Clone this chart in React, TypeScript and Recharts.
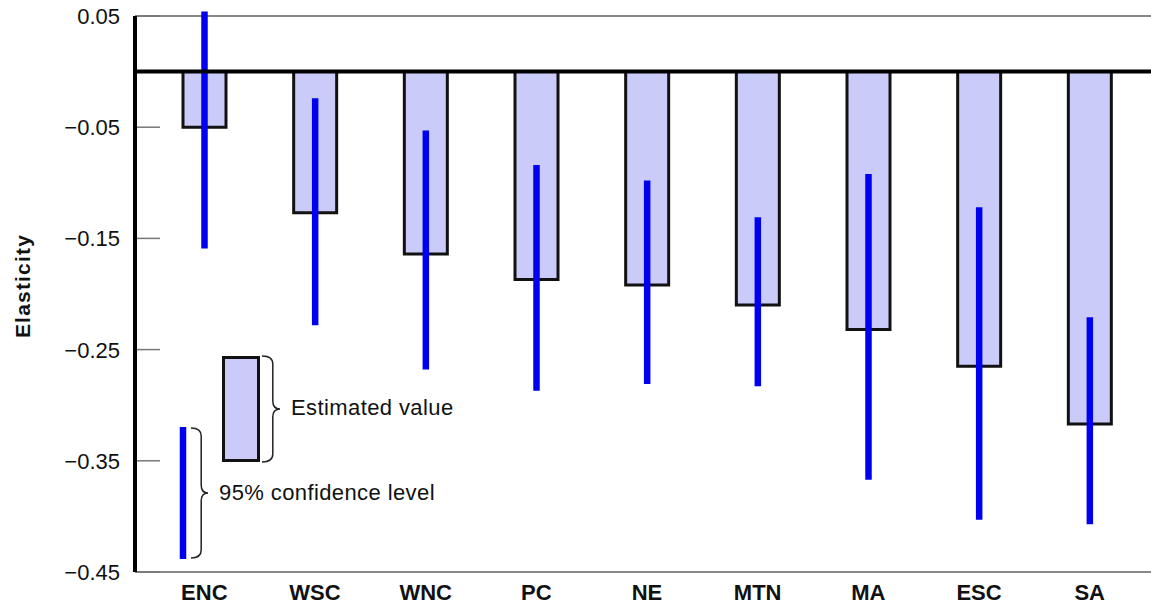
import React from 'react'

//* Recharts
import { BarChart, Bar, ErrorBar, XAxis, YAxis, ReferenceLine } from 'recharts'

const regions = ['ENC', 'WSC', 'WNC', 'PC', 'NE', 'MTN', 'MA', 'ESC', 'SA']
const estimates = [-0.05, -0.127, -0.164, -0.187, -0.192, -0.21, -0.232, -0.265, -0.317]
const ciLower = [-0.159, -0.228, -0.268, -0.287, -0.281, -0.283, -0.367, -0.403, -0.407]
const ciUpper = [0.054, -0.024, -0.053, -0.084, -0.098, -0.131, -0.092, -0.122, -0.221]
const yTicks = [0.05, -0.05, -0.15, -0.25, -0.35, -0.45]

const FONT = '"Liberation Sans", Arial, Helvetica, sans-serif'
const BAR_FILL = '#cbcbfa'
const BLUE = '#0000f0'

const data = regions.map((r, i) => ({
    region: r,
    est: estimates[i],
    err: [estimates[i] - ciLower[i], ciUpper[i] - estimates[i]]
}))

const fmt = (v: number) => (v < 0 ? '\u2212' : '') + Math.abs(v).toFixed(2)

const YTick = (props: any) => {
    const { x, y, payload } = props
    return (
        <g>
            <text x={x} y={y} dy="0.36em" textAnchor="end" fontSize={22} fontFamily={FONT} fill="#111">
                {fmt(payload.value)}
            </text>
            <line x1={x + 17} x2={x + 40} y1={y} y2={y} stroke="#777" strokeWidth={1.5} />
        </g>
    )
}

const XTick = (props: any) => {
    const { x, y, payload } = props
    return (
        <text x={x} y={y} dy="0.71em" textAnchor="middle" fontSize={22} fontWeight="bold" fontFamily={FONT} fill="#111">
            {payload.value}
        </text>
    )
}

const YLabel = (props: any) => {
    const { viewBox } = props
    const cx = viewBox.x + 22
    const cy = 286
    return (
        <text x={cx} y={cy} transform={`rotate(-90, ${cx}, ${cy})`} textAnchor="middle" dy="0.36em"
            fontSize={21} fontWeight="bold" letterSpacing={1.2} fontFamily={FONT} fill="#111">
            Elasticity
        </text>
    )
}

// curly brace pointing right
const brace = (x0: number, y0: number, y1: number, w: number) => {
    const x1 = x0 + w * 0.6
    const x2 = x0 + w
    const ym = (y0 + y1) / 2
    const r = 8
    return `M ${x0} ${y0} Q ${x1} ${y0} ${x1} ${y0 + r} L ${x1} ${ym - r} Q ${x1} ${ym} ${x2} ${ym} ` +
        `Q ${x1} ${ym} ${x1} ${ym + r} L ${x1} ${y1 - r} Q ${x1} ${y1} ${x0} ${y1}`
}

function Legend() {
    return (
        <svg width={1151} height={607} style={{ position: 'absolute', left: 0, top: 0, pointerEvents: 'none' }}>
            <rect x={223.5} y={357.5} width={35} height={103} fill={BAR_FILL} stroke="#111" strokeWidth={3} />
            <path d={brace(262, 356, 462, 18)} fill="none" stroke="#222" strokeWidth={1.5} />
            <text x={291} y={415} fontSize={22} letterSpacing={0.4} fontFamily={FONT} fill="#111">Estimated value</text>
            <line x1={183} x2={183} y1={427} y2={559} stroke={BLUE} strokeWidth={6.5} />
            <path d={brace(191, 428, 558, 17)} fill="none" stroke="#222" strokeWidth={1.5} />
            <text x={219} y={500} fontSize={22} letterSpacing={0.4} fontFamily={FONT} fill="#111">95% confidence level</text>
        </svg>
    )
}

function App() {
    return (
        <div style={{ position: 'absolute', left: 0, top: 0, width: 1151, height: 607, background: '#fff' }}>
            <BarChart width={1151} height={607} data={data} margin={{ top: 16, right: 0, bottom: 0, left: 0 }}>
                <XAxis dataKey="region" height={35} tickLine={false} tickSize={0} tickMargin={12}
                    axisLine={{ stroke: '#888', strokeWidth: 2 }} tick={<XTick />} padding={{ left: 14, right: 6 }} />
                <YAxis width={135} domain={[-0.45, 0.05]} ticks={yTicks} allowDataOverflow tickLine={false}
                    tickSize={0} tickMargin={15} axisLine={{ stroke: '#000', strokeWidth: 4 }} tick={<YTick />}
                    label={<YLabel />} />
                <ReferenceLine y={0.05} stroke="#888" strokeWidth={2} />
                <Bar dataKey="est" barSize={43} fill={BAR_FILL} stroke="#111" strokeWidth={3} isAnimationActive={false}>
                    <ErrorBar dataKey="err" width={0} stroke={BLUE} strokeWidth={6.5} direction="y" />
                </Bar>
                <ReferenceLine y={0} stroke="#000" strokeWidth={4} />
            </BarChart>
            <Legend />
        </div>
    )
}

export default App
